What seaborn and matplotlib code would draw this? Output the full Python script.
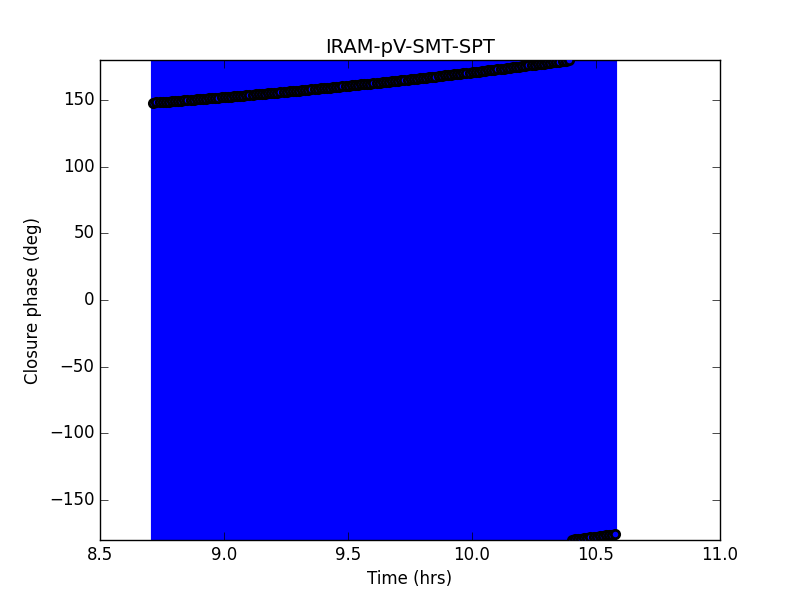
import matplotlib
matplotlib.use("Agg")
import matplotlib.pyplot as plt
import seaborn as sns

# Closure phase data (time in hours, phase in degrees)
times = [8.7150, 8.7275, 8.7400, 8.7525, 8.7650, 8.7775, 8.7900, 8.8025, 8.8150, 8.8275,
         8.8400, 8.8525, 8.8650, 8.8775, 8.8900, 8.9025, 8.9150, 8.9275, 8.9400, 8.9525,
         8.9650, 8.9775, 8.9900, 9.0025, 9.0150, 9.0275, 9.0400, 9.0525, 9.0650, 9.0775,
         9.0900, 9.1025, 9.1150, 9.1275, 9.1400, 9.1525, 9.1650, 9.1775, 9.1900, 9.2025,
         9.2150, 9.2275, 9.2400, 9.2525, 9.2650, 9.2775, 9.2900, 9.3025, 9.3150, 9.3275,
         9.3400, 9.3525, 9.3650, 9.3775, 9.3900, 9.4025, 9.4150, 9.4275, 9.4400, 9.4525,
         9.4650, 9.4775, 9.4900, 9.5025, 9.5150, 9.5275, 9.5400, 9.5525, 9.5650, 9.5775,
         9.5900, 9.6025, 9.6150, 9.6275, 9.6400, 9.6525, 9.6650, 9.6775, 9.6900, 9.7025,
         9.7150, 9.7275, 9.7400, 9.7525, 9.7650, 9.7775, 9.7900, 9.8025, 9.8150, 9.8275,
         9.8400, 9.8525, 9.8650, 9.8775, 9.8900, 9.9025, 9.9150, 9.9275, 9.9400, 9.9525,
         9.9650, 9.9775, 9.9900, 10.0025, 10.0150, 10.0275, 10.0400, 10.0525, 10.0650, 10.0775,
         10.0900, 10.1025, 10.1150, 10.1275, 10.1400, 10.1525, 10.1650, 10.1775, 10.1900, 10.2025,
         10.2150, 10.2275, 10.2400, 10.2525, 10.2650, 10.2775, 10.2900, 10.3025, 10.3150, 10.3275,
         10.3400, 10.3525, 10.3650, 10.3775, 10.3900, 10.4025, 10.4150, 10.4275, 10.4400, 10.4525,
         10.4650, 10.4775, 10.4900, 10.5025, 10.5150, 10.5275, 10.5400, 10.5525, 10.5650, 10.5775]
phases = [148.00, 148.17, 148.34, 148.51, 148.68, 148.86, 149.03, 149.21, 149.38, 149.56,
          149.75, 149.93, 150.12, 150.30, 150.49, 150.67, 150.86, 151.04, 151.23, 151.41,
          151.60, 151.79, 151.99, 152.18, 152.38, 152.57, 152.77, 152.96, 153.16, 153.35,
          153.55, 153.75, 153.96, 154.16, 154.37, 154.57, 154.78, 154.98, 155.19, 155.39,
          155.60, 155.81, 156.03, 156.24, 156.46, 156.67, 156.89, 157.10, 157.32, 157.53,
          157.75, 157.97, 158.20, 158.42, 158.65, 158.87, 159.10, 159.32, 159.55, 159.77,
          160.00, 160.23, 160.47, 160.70, 160.94, 161.17, 161.41, 161.64, 161.88, 162.11,
          162.35, 162.59, 162.84, 163.08, 163.33, 163.57, 163.82, 164.06, 164.31, 164.55,
          164.80, 165.05, 165.31, 165.56, 165.82, 166.07, 166.33, 166.58, 166.84, 167.09,
          167.35, 167.61, 167.88, 168.14, 168.41, 168.67, 168.94, 169.20, 169.47, 169.73,
          170.00, 170.27, 170.55, 170.82, 171.10, 171.37, 171.65, 171.92, 172.20, 172.47,
          172.75, 173.03, 173.32, 173.60, 173.89, 174.17, 174.46, 174.74, 175.03, 175.31,
          175.60, 175.89, 176.19, 176.48, 176.78, 177.07, 177.37, 177.66, 177.96, 178.25,
          178.55, 178.85, 179.16, 179.46, 179.77, -179.93, -179.62, -179.32, -179.01, -178.71,
          -178.40, -178.09, -177.77, -177.46, -177.14, -176.83, -176.51, -176.20, -175.88, -175.57]
# errors are far larger than the plotted range
phase_err = [400.0] * len(phases)

title = "IRAM-pV-SMT-SPT"
xticks = [8.5, 9.0, 9.5, 10.0, 10.5, 11.0]
yticks = [-150, -100, -50, 0, 50, 100, 150]

plt.style.use("classic")
plt.rcParams["font.family"] = ["DejaVu Sans"]

fig, ax = plt.subplots(figsize=(8, 6), dpi=100)
fig.patch.set_facecolor("white")
fig.subplots_adjust(left=0.125, right=0.9, bottom=0.1, top=0.9)

ax.errorbar(times, phases, yerr=phase_err, fmt="none", ecolor="b",
            elinewidth=3.0, capsize=0, zorder=2)
sns.scatterplot(x=times, y=phases, color="b", edgecolor="k", linewidth=2.0,
                s=36, ax=ax, zorder=3, legend=False)

ax.set_xlim(8.5, 11.0)
ax.set_ylim(-180, 180)
ax.set_xticks(xticks)
ax.set_xticklabels([f"{t:.1f}" for t in xticks])
ax.set_yticks(yticks)
ax.tick_params(direction="in", top=True, right=True, length=6, labelsize=12,
               colors="black")

ax.set_title(title, fontsize=14, color="black")
ax.set_xlabel("Time (hrs)", fontsize=12, color="black")
ax.set_ylabel("Closure phase (deg)", fontsize=12, color="black")
ax.set_facecolor("white")

plt.savefig("out.png", dpi=100, facecolor="white")
